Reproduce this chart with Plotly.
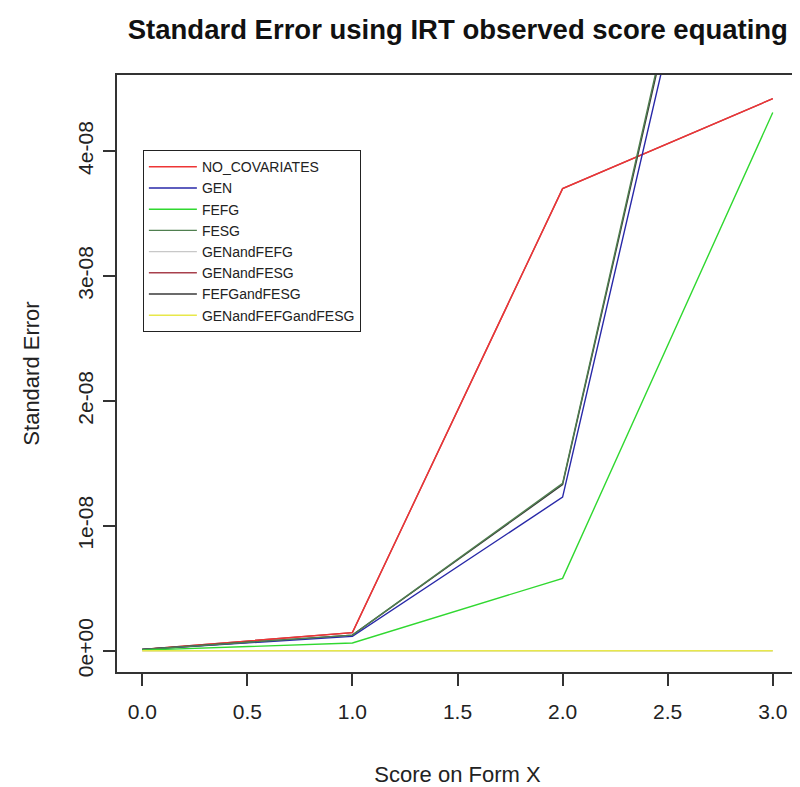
import plotly.graph_objects as go

x_scores = [0, 1, 2, 3]

series_names = ["NO_COVARIATES", "GEN", "FEFG", "FESG", "GENandFEFG",
                "GENandFESG", "FEFGandFESG", "GENandFEFGandFESG"]

no_covariates = [1.0e-10, 1.45e-9, 3.70e-8, 4.42e-8]
gen = [1.0e-10, 1.15e-9, 1.23e-8, 8.47e-8]
fefg = [0.5e-10, 0.62e-9, 0.58e-8, 4.31e-8]
fesg = [1.0e-10, 1.25e-9, 1.34e-8, 8.76e-8]
gen_and_fefg = [0.0, 0.0, 0.0, 0.0]
gen_and_fesg = [1.0e-10, 1.45e-9, 3.70e-8, 4.42e-8]
fefg_and_fesg = [1.0e-10, 1.25e-9, 1.33e-8, 8.70e-8]
gen_and_fefg_and_fesg = [0.0, 0.0, 0.0, 0.0]

series_values = [no_covariates, gen, fefg, fesg, gen_and_fefg,
                 gen_and_fesg, fefg_and_fesg, gen_and_fefg_and_fesg]

colors = ["#EE3535", "#2828A8", "#30D830", "#4F7F4F", "#C8C8C8",
          "#A8404C", "#3A3A3A", "#E8E84A"]

# drawing order (legend order kept via legendrank)
draw_order = [5, 0, 6, 1, 3, 2, 4, 7]

x_tickvals = [0.0, 0.5, 1.0, 1.5, 2.0, 2.5, 3.0]
x_ticktext = ["0.0", "0.5", "1.0", "1.5", "2.0", "2.5", "3.0"]
y_tickvals = [0, 1e-8, 2e-8, 3e-8, 4e-8]
y_ticktext = ["0e+00", "1e-08", "2e-08", "3e-08", "4e-08"]

FONT = "Liberation Sans, Arial, sans-serif"

fig = go.Figure()
for i in draw_order:
    fig.add_trace(go.Scatter(x=x_scores, y=series_values[i], mode="lines",
                             name=series_names[i], legendrank=100 + i,
                             line=dict(color=colors[i], width=1.4)))

# the page adds an 8px body margin, so the figure is sized to fit 800x787
fig.update_layout(
    width=792, height=779,
    margin=dict(l=109, r=2, t=67, b=115, autoexpand=False),
    paper_bgcolor="white", plot_bgcolor="white",
    font=dict(family=FONT, color="#222222", size=21),
    title=dict(text="<b>Standard Error using IRT observed score equating</b>",
               x=0.568, xanchor="center", y=0.972, yanchor="middle",
               font=dict(size=27.5, color="#111111")),
    showlegend=True,
    legend=dict(x=0.038, y=0.874, xanchor="left", yanchor="top",
                bgcolor="white", bordercolor="#222222", borderwidth=1,
                font=dict(size=14, color="#222222"),
                itemwidth=48, tracegroupgap=0),
)

fig.update_xaxes(range=[-0.12, 3.12], tickvals=x_tickvals, ticktext=x_ticktext,
                 showgrid=False, zeroline=False, showline=True, mirror=True,
                 linecolor="#333333", linewidth=1.5, automargin=False,
                 ticks="outside", ticklen=12, tickwidth=1.5, tickcolor="#333333",
                 ticklabelstandoff=8,
                 title=dict(text="Score on Form X", standoff=45, font=dict(size=22)))
fig.update_yaxes(range=[-1.7e-9, 4.61e-8], tickvals=y_tickvals, ticktext=y_ticktext,
                 showgrid=False, zeroline=False, showline=True, mirror=True,
                 linecolor="#333333", linewidth=1.5, automargin=False,
                 ticks="outside", ticklen=12, tickwidth=1.5, tickcolor="#333333",
                 tickangle=-90, ticklabelstandoff=2,
                 title=dict(text="Standard Error", standoff=28, font=dict(size=22)))

fig.write_html("out.html")
